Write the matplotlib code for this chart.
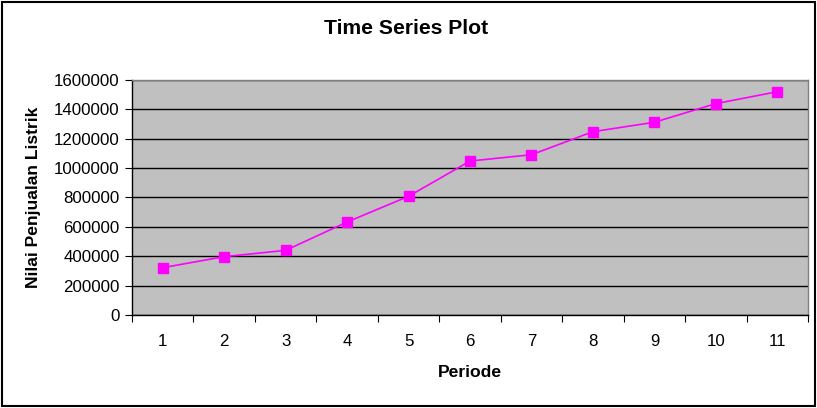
import matplotlib
matplotlib.use('Agg')
import matplotlib.pyplot as plt
from matplotlib.patches import Rectangle
import numpy as np

periode = [1, 2, 3, 4, 5, 6, 7, 8, 9, 10, 11]
penjualan = [322000, 397000, 440000, 633000, 808000, 1048000,
             1091000, 1248000, 1312000, 1439000, 1520000]
y_ticks = [0, 200000, 400000, 600000, 800000, 1000000, 1200000, 1400000, 1600000]

plt.rcParams['font.family'] = ['Liberation Sans', 'DejaVu Sans']

fig = plt.figure(figsize=(8.17, 4.08), dpi=100)
fig.patch.set_facecolor('white')
ax = fig.add_axes([0.1616, 0.228, 0.8274, 0.576])
ax.set_facecolor('#c0c0c0')

ax.plot(periode, penjualan, color='#ff00ff', linewidth=1.2,
        marker='s', markersize=6.5, markerfacecolor='#ff00ff',
        markeredgecolor='#ff00ff', zorder=3)

ax.set_xlim(0.5, 11.5)
ax.set_ylim(0, 1600000)
ax.set_yticks(y_ticks)
ax.set_yticklabels([str(v) for v in y_ticks], fontsize=12.2)
ax.yaxis.grid(True, color='black', linewidth=1)
ax.set_axisbelow(True)

# category boundaries as ticks, labels at centres
ax.set_xticks(np.arange(0.5, 12, 1))
ax.set_xticklabels([])
ax.set_xticks(periode, minor=True)
ax.set_xticklabels([str(p) for p in periode], minor=True, fontsize=12.2)
ax.tick_params(axis='x', which='major', direction='out', length=5, color='black')
ax.tick_params(axis='x', which='minor', length=0, pad=14)
ax.tick_params(axis='y', direction='out', length=5, color='black', pad=4)

for side in ['top', 'right']:
    ax.spines[side].set_color('#808080')
    ax.spines[side].set_linewidth(1)
for side in ['left', 'bottom']:
    ax.spines[side].set_color('black')
    ax.spines[side].set_linewidth(1)

ax.set_xlabel('Periode', fontsize=12.6, fontweight='bold', va='center')
ax.xaxis.set_label_coords(0.5, -0.243)
ax.set_ylabel('Nilai Penjualan Listrik', fontsize=12.6, fontweight='bold', va='center')
ax.yaxis.set_label_coords(-0.146, 0.5)
fig.text(0.497, 0.93, 'Time Series Plot', fontsize=15.2, fontweight='bold',
         ha='center', va='center')

# outer chart border
fig.patches.append(Rectangle((0.002, 0.004), 0.995, 0.992, transform=fig.transFigure,
                             fill=False, edgecolor='black', linewidth=1.5))

fig.savefig('out.png', dpi=100)
